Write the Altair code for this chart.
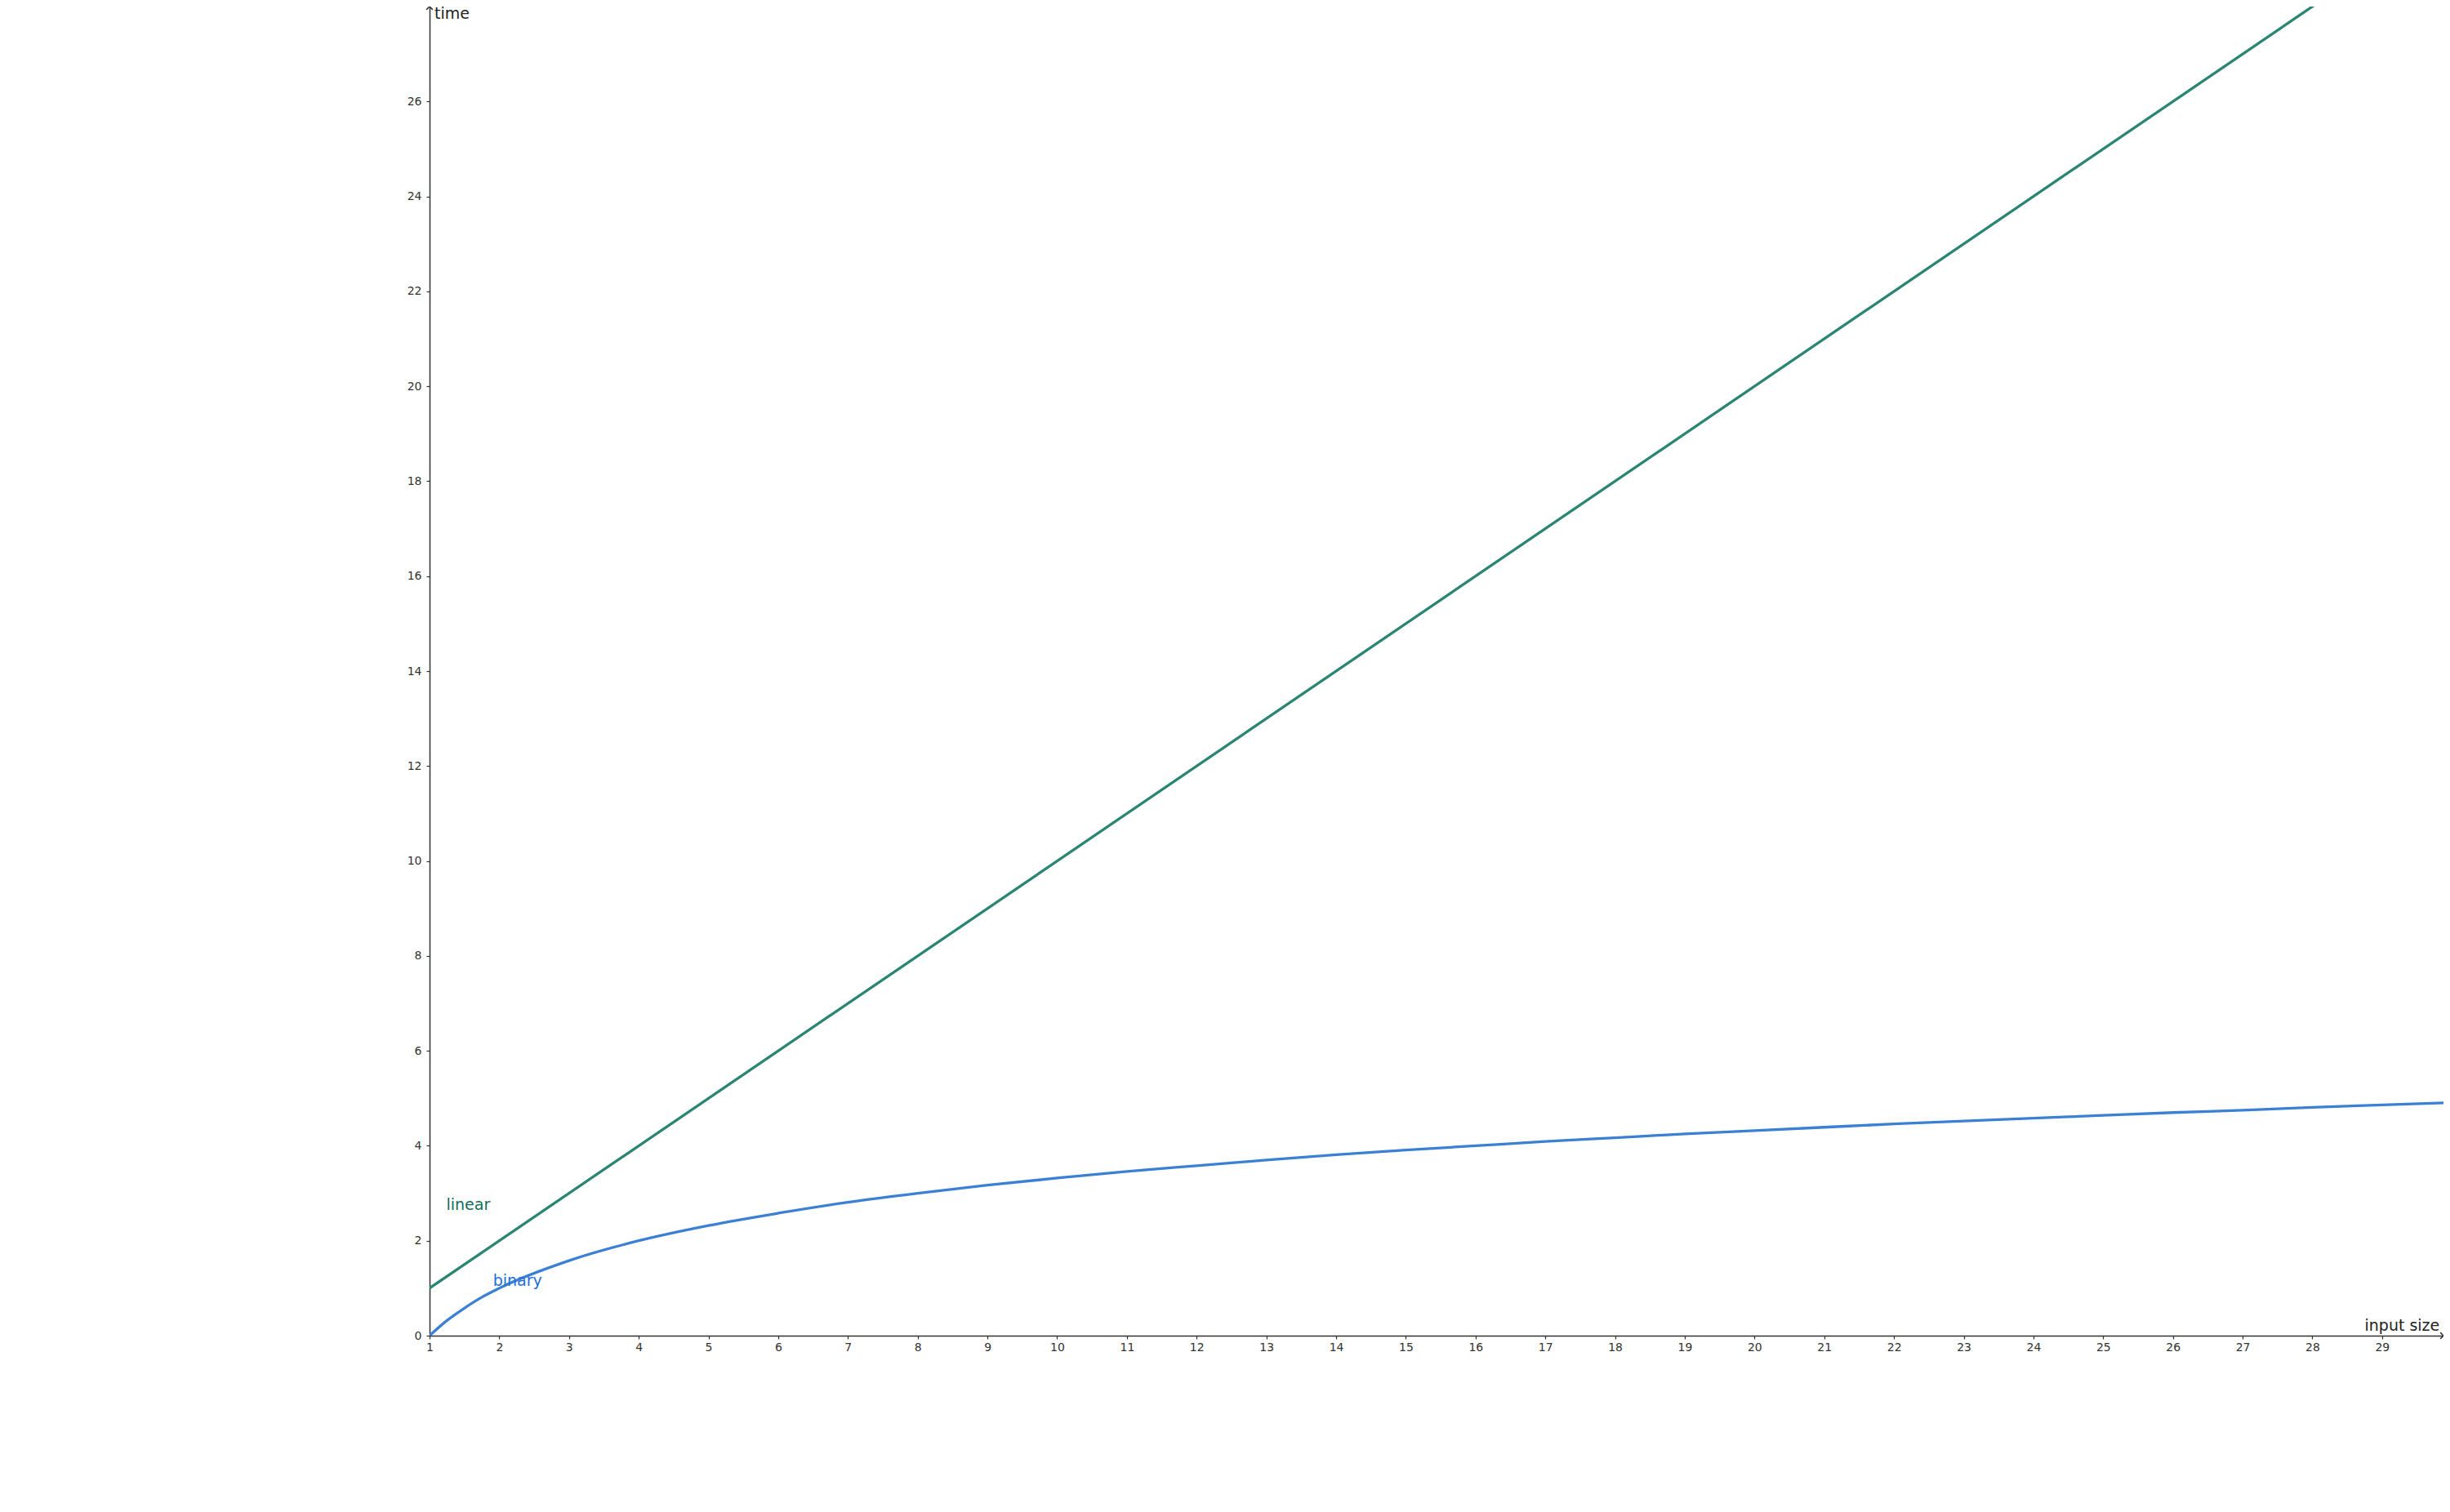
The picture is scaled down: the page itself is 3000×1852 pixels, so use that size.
import altair as alt
import pandas as pd

# ---- data ----
linear_n = [1, 10, 20, 30]
linear_t = [1, 10, 20, 30]

binary_n = [1, 1.25, 1.5, 1.75, 2, 3, 4, 5, 6, 7, 8, 9, 10, 11, 12, 13, 14, 15, 16,
            17, 18, 19, 20, 21, 22, 23, 24, 25, 26, 27, 28, 29, 30]
binary_t = [0, 0.32, 0.58, 0.81, 1, 1.58, 2, 2.32, 2.58, 2.81, 3, 3.17, 3.32, 3.46,
            3.58, 3.70, 3.81, 3.91, 4, 4.09, 4.17, 4.25, 4.32, 4.39, 4.46, 4.52,
            4.58, 4.64, 4.70, 4.75, 4.81, 4.86, 4.91]

x_ticks = list(range(1, 30))
y_ticks = list(range(0, 27, 2))

label_text = ["linear", "binary"]
label_n = [1.24, 1.91]
label_t = [2.65, 1.05]
label_color = ["#0f6e5a", "#1f6fd6"]

title_text = ["time", "input size"]
title_n = [1.07, 28.75]
title_t = [27.75, 0.1]

X_DOM = [1, 29.88]
Y_DOM = [0, 28]

lin_df = pd.DataFrame({"n": linear_n, "t": linear_t})
bin_df = pd.DataFrame({"n": binary_n, "t": binary_t})
lab_df = pd.DataFrame({"text": label_text, "n": label_n, "t": label_t, "c": label_color})
tit_df = pd.DataFrame({"text": title_text, "n": title_n, "t": title_t})
arrow_x_df = pd.DataFrame({"n": [X_DOM[1]], "t": [0]})
arrow_y_df = pd.DataFrame({"n": [1], "t": [Y_DOM[1]]})

FONT = "DejaVu Sans"

xs = alt.Scale(domain=X_DOM, nice=False, zero=False)
ys = alt.Scale(domain=Y_DOM, nice=False, zero=False)

x_axis = alt.Axis(values=x_ticks, title=None, grid=False, labelFont=FONT, labelFontSize=14,
                  labelColor="#333333", domainColor="#333333", domainWidth=1.5,
                  tickColor="#333333", tickSize=4, tickWidth=1.2, labelPadding=3,
                  labelFlush=False, labelOverlap=False, format="d")
y_axis = alt.Axis(values=y_ticks, title=None, grid=False, labelFont=FONT, labelFontSize=14,
                  labelColor="#333333", domainColor="#333333", domainWidth=1.5,
                  tickColor="#333333", tickSize=4, tickWidth=1.2, labelPadding=6,
                  labelFlush=False, labelOverlap=False, format="d")

lin = alt.Chart(lin_df).mark_line(color="#2b8573", strokeWidth=3.3, clip=True).encode(
    x=alt.X("n:Q", scale=xs, axis=x_axis),
    y=alt.Y("t:Q", scale=ys, axis=y_axis),
)
binl = alt.Chart(bin_df).mark_line(color="#3b80d5", strokeWidth=3.3, clip=True,
                                   interpolate="monotone").encode(
    x=alt.X("n:Q", scale=xs),
    y=alt.Y("t:Q", scale=ys),
)
labels = alt.Chart(lab_df).mark_text(font=FONT, fontSize=19, align="left",
                                     baseline="alphabetic").encode(
    x=alt.X("n:Q", scale=xs),
    y=alt.Y("t:Q", scale=ys),
    text="text:N",
    color=alt.Color("c:N", scale=None),
)
titles = alt.Chart(tit_df).mark_text(font=FONT, fontSize=19, align="left",
                                     baseline="alphabetic", color="#222222").encode(
    x=alt.X("n:Q", scale=xs),
    y=alt.Y("t:Q", scale=ys),
    text="text:N",
)
arrow_x = alt.Chart(arrow_x_df).mark_point(shape="M-1,-1L0,0L-1,1", filled=False,
                                           stroke="#333333", strokeWidth=1.5, size=60,
                                           opacity=1).encode(
    x=alt.X("n:Q", scale=xs), y=alt.Y("t:Q", scale=ys))
arrow_y = alt.Chart(arrow_y_df).mark_point(shape="M-1,1L0,0L1,1", filled=False,
                                           stroke="#333333", strokeWidth=1.5, size=60,
                                           opacity=1).encode(
    x=alt.X("n:Q", scale=xs), y=alt.Y("t:Q", scale=ys))

chart = alt.layer(lin, binl, labels, titles, arrow_x, arrow_y).properties(
    width=2466, height=1628,
    autosize=alt.AutoSizeParams(type="none"),
    padding={"left": 518, "top": 0, "right": 0, "bottom": 40},
    background="white",
).configure_view(stroke=None)

chart.save("out.html", embed_options={"renderer": "svg", "actions": False})
